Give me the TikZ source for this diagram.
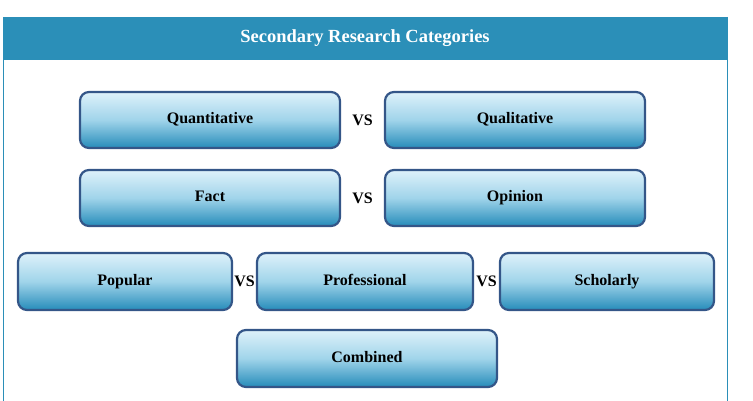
\documentclass[tikz,border=0pt]{standalone}
\usepackage{fontspec}
\setmainfont{Liberation Serif}
\usetikzlibrary{calc}

\definecolor{barblue}{RGB}{43,143,184}
\definecolor{boxtop}{RGB}{222,241,250}
\definecolor{boxmid}{RGB}{160,212,234}
\definecolor{boxbot}{RGB}{38,140,186}
\definecolor{boxedge}{RGB}{52,86,136}

\begin{document}
\begin{tikzpicture}[x=1pt, y=-1pt,
        catbox/.style={draw=boxedge, line width=2.2pt, rounded corners=9pt,
            top color=boxtop, bottom color=boxbot, middle color=boxmid,
            minimum height=56pt, inner sep=0pt, text height=11pt, text depth=3pt,
            font=\fontsize{16}{18}\selectfont\bfseries},
        vslabel/.style={font=\fontsize{16}{18}\selectfont\bfseries, inner sep=0pt}]
            \useasboundingbox (0,0) rectangle (753,401);

            %% cadre et titre
            \fill [barblue] (3,17) rectangle (727,60);
            \draw [barblue, line width=1pt] (3,60) -- (3,401);
            \draw [barblue, line width=1pt] (727,17) -- (727,401);
            \node [white, font=\fontsize{18.5}{21}\selectfont\bfseries] (title) at (365,38) {Secondary Research Categories};

            %% premiere ligne
            \node [catbox, minimum width=260pt] (quant) at (210,120) {Quantitative};
            \node [catbox, minimum width=260pt] (qual) at (515,120) {Qualitative};
            \node [vslabel] (vsa) at ($(quant.east)!0.5!(qual.west)$) {VS};

            %% deuxieme ligne
            \node [catbox, minimum width=260pt] (fact) at (210,198) {Fact};
            \node [catbox, minimum width=260pt] (opinion) at (515,198) {Opinion};
            \node [vslabel] (vsb) at ($(fact.east)!0.5!(opinion.west)$) {VS};

            %% troisieme ligne
            \node [catbox, minimum width=214pt, minimum height=57pt] (popular) at (125,281.5) {Popular};
            \node [catbox, minimum width=216pt, minimum height=57pt] (prof) at (365,281.5) {Professional};
            \node [catbox, minimum width=214pt, minimum height=57pt] (scholarly) at (607,281.5) {Scholarly};
            \node [vslabel] (vsc) at ($(popular.east)!0.5!(prof.west)$) {VS};
            \node [vslabel] (vsd) at ($(prof.east)!0.5!(scholarly.west)$) {VS};

            %% derniere ligne
            \node [catbox, minimum width=260pt, minimum height=57pt] (combined) at (367,358.5) {Combined};
        \end{tikzpicture}
\end{document}
